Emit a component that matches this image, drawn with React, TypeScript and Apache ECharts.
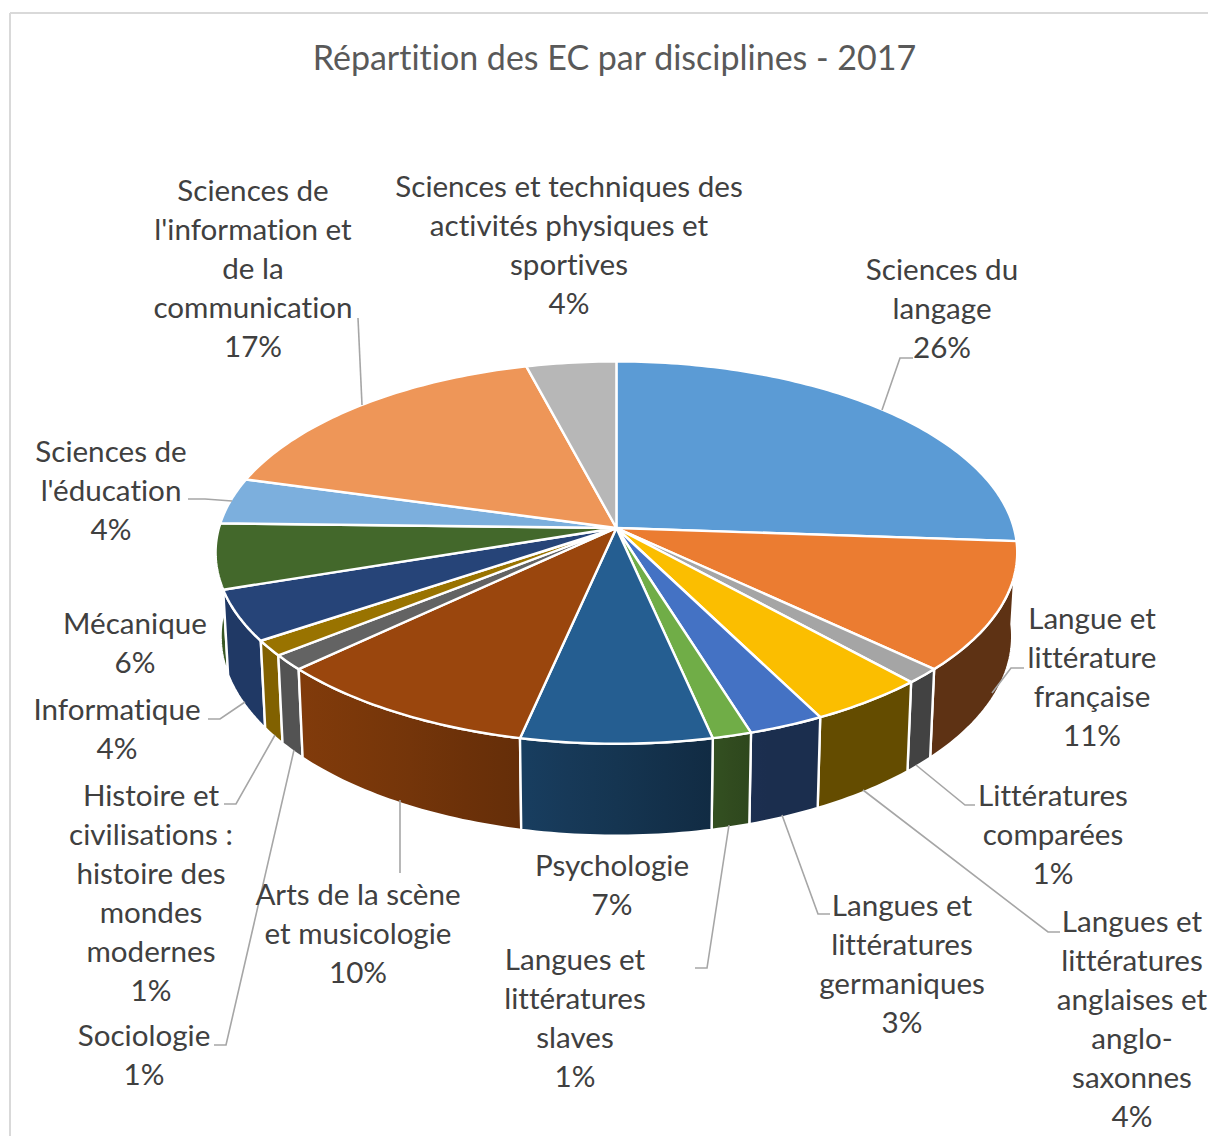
import React, { useEffect, useRef } from "react";
import * as echarts from "echarts";

const titleText = "Répartition des EC par disciplines - 2017";
const categories = [
  "Sciences du\nlangage",
  "Langue et\nlittérature\nfrançaise",
  "Littératures\ncomparées",
  "Langues et\nlittératures\nanglaises et\nanglo-\nsaxonnes",
  "Langues et\nlittératures\ngermaniques",
  "Langues et\nlittératures\nslaves",
  "Psychologie",
  "Arts de la scène\net musicologie",
  "Sociologie",
  "Histoire et\ncivilisations :\nhistoire des\nmondes\nmodernes",
  "Informatique",
  "Mécanique",
  "Sciences de\nl'éducation",
  "Sciences de\nl'information et\nde la\ncommunication",
  "Sciences et techniques des\nactivités physiques et\nsportives",
];
const values = [26.1, 10.9, 1.3, 4.2, 2.7, 1.4, 6.8, 9.6, 1.3, 1.3, 4.3, 5.5, 3.9, 16.6, 4.1];
const colors = [
  "#5b9bd5", "#eb7c31", "#a5a5a5", "#fbbe00", "#4472c4", "#70ad47", "#255e91", "#9a460d",
  "#636363", "#997300", "#264478", "#43682b", "#7cafdd", "#ee9658", "#b7b7b7",
];
// label anchor: centre x, centre y of the first line
const labelAnchors = [
  [942, 268], [1092, 617], [1053, 794], [1132, 920], [902, 904], [575, 958], [612, 864], [358, 893],
  [144, 1034], [151, 794], [117, 708], [135, 622], [111, 450], [253, 189], [569, 185],
];
const leaders = [
  [[882, 410], [900, 358], [913, 358]],
  [[992, 693], [1011, 668], [1024, 668]],
  [[916, 765], [965, 805], [975, 805]],
  [[863, 790], [1048, 932], [1060, 932]],
  [[782, 815], [818, 914], [830, 914]],
  [[729, 825], [707, 968], [695, 968]],
  [[400, 800], [400, 873]],
  [[294, 750], [226, 1045], [214, 1045]],
  [[275, 735], [236, 804], [224, 804]],
  [[245, 702], [220, 719], [208, 719]],
  [[232, 501], [205, 499], [188, 499]],
  [[362, 405], [358, 318]],
];

// projection of the tilted disc
const CX = 616.4, CY = 528, RX = 397.5, RY = 188, P = 0.1286, DEPTH = 82.5, SHRINK = 0.9875;
const FONT = "Lato";
const LINE = 39;

const rim = (deg: number) => {
  const t = (deg * Math.PI) / 180;
  const w = 1 + P * Math.cos(t);
  return [RX * Math.sin(t) / w, -RY * Math.cos(t) / w, w];
};
const topPt = (deg: number) => {
  const [x, y] = rim(deg);
  return [CX + x, CY + y];
};
const botPt = (deg: number) => {
  const [x, y, w] = rim(deg);
  return [CX + x * SHRINK, CY + y * SHRINK + DEPTH / w];
};
const arc = (a: number, b: number, f: (d: number) => number[]) => {
  const n = Math.max(2, Math.ceil(Math.abs(b - a)));
  const pts: number[][] = [];
  for (let i = 0; i <= n; i++) pts.push(f(a + ((b - a) * i) / n));
  return pts;
};

const shadeStops = [[0, 0.86], [300, 0.84], [520, 0.66], [712, 0.46], [760, 0.4], [1208, 0.4]];
const shadeAt = (x: number) => {
  for (let i = 1; i < shadeStops.length; i++) {
    const [x0, s0] = shadeStops[i - 1];
    const [x1, s1] = shadeStops[i];
    if (x <= x1) return s0 + ((s1 - s0) * (x - x0)) / (x1 - x0);
  }
  return 0.4;
};
const darken = (hex: string, s: number) => {
  const n = parseInt(hex.slice(1), 16);
  const c = [(n >> 16) & 255, (n >> 8) & 255, n & 255].map((v) => Math.round(v * s));
  return `rgb(${c[0]},${c[1]},${c[2]})`;
};

const total = values.reduce((a, b) => a + b, 0);
const sliceRanges = (() => {
  let acc = 0;
  return values.map((v, i) => {
    const a = (acc / total) * 360;
    acc += v;
    return [a, (acc / total) * 360, i];
  });
})();
const frontWalls = sliceRanges
  .filter((r) => {
    const m = (r[0] + r[1]) / 2;
    return m > 90 && m < 270;
  })
  .sort((p, q) => Math.abs((q[0] + q[1]) / 2 - 180) - Math.abs((p[0] + p[1]) / 2 - 180));

const WHITE = { stroke: "#ffffff", lineWidth: 2.4, lineJoin: "round" };

export default function App() {
  const ref = useRef<HTMLDivElement>(null);
  useEffect(() => {
    const chart = echarts.init(ref.current!, null, { renderer: "svg" });
    const textEls = categories.map((c, i) => ({
      type: "text",
      x: labelAnchors[i][0],
      y: labelAnchors[i][1] - LINE / 2,
      silent: true,
      z: 20,
      style: {
        text: `${c}\n${Math.round(values[i])}%`,
        fill: "#404040",
        font: `29.6px ${FONT}`,
        lineHeight: LINE,
        align: "center",
        verticalAlign: "top",
      },
    }));
    const leaderEls = leaders.map((pts) => ({
      type: "polyline",
      silent: true,
      z: 10,
      shape: { points: pts },
      style: { stroke: "#a6a6a6", lineWidth: 1.6, fill: "none" },
    }));
    chart.setOption({
      animation: false,
      backgroundColor: "#ffffff",
      title: {
        text: titleText,
        left: 609.5,
        top: 34,
        textAlign: "center",
        textStyle: { fontFamily: FONT, fontWeight: "normal", fontSize: 34, color: "#595959" },
      },
      graphic: [
        { type: "line", silent: true, shape: { x1: 10, y1: 13, x2: 1208, y2: 13 }, style: { stroke: "#d9d9d9", lineWidth: 2 } },
        { type: "line", silent: true, shape: { x1: 10, y1: 13, x2: 10, y2: 1136 }, style: { stroke: "#d9d9d9", lineWidth: 2 } },
        ...leaderEls,
        ...textEls,
      ],
      series: [
        {
          type: "custom",
          coordinateSystem: "none",
          silent: true,
          z: 2,
          data: frontWalls,
          renderItem: (_: any, api: any) => {
            const a = api.value(0), b = api.value(1), idx = api.value(2);
            const pts = [...arc(a, b, topPt), ...arc(b, a, botPt)];
            const xs = pts.map((p) => p[0]);
            const xL = Math.min(...xs), xR = Math.max(...xs);
            const stops = [0, 0.25, 0.5, 0.75, 1].map((o) => ({
              offset: o,
              color: darken(colors[idx], shadeAt(xL + (xR - xL) * o)),
            }));
            return {
              type: "polygon",
              shape: { points: pts },
              style: {
                fill: new echarts.graphic.LinearGradient(xL, 0, xR, 0, stops, true),
                ...WHITE,
              },
            };
          },
        },
        {
          type: "custom",
          coordinateSystem: "none",
          silent: true,
          z: 3,
          data: sliceRanges,
          renderItem: (_: any, api: any) => {
            const a = api.value(0), b = api.value(1), idx = api.value(2);
            return {
              type: "polygon",
              shape: { points: [[CX, CY], ...arc(a, b, topPt)] },
              style: { fill: colors[idx], ...WHITE },
            };
          },
        },
      ],
    });
    return () => chart.dispose();
  }, []);
  return (
    <>
      <style>{"svg text { font-variant-ligatures: none !important; }"}</style>
      <div ref={ref} style={{ position: "absolute", left: 0, top: 0, width: 1208, height: 1136 }} />
    </>
  );
}
